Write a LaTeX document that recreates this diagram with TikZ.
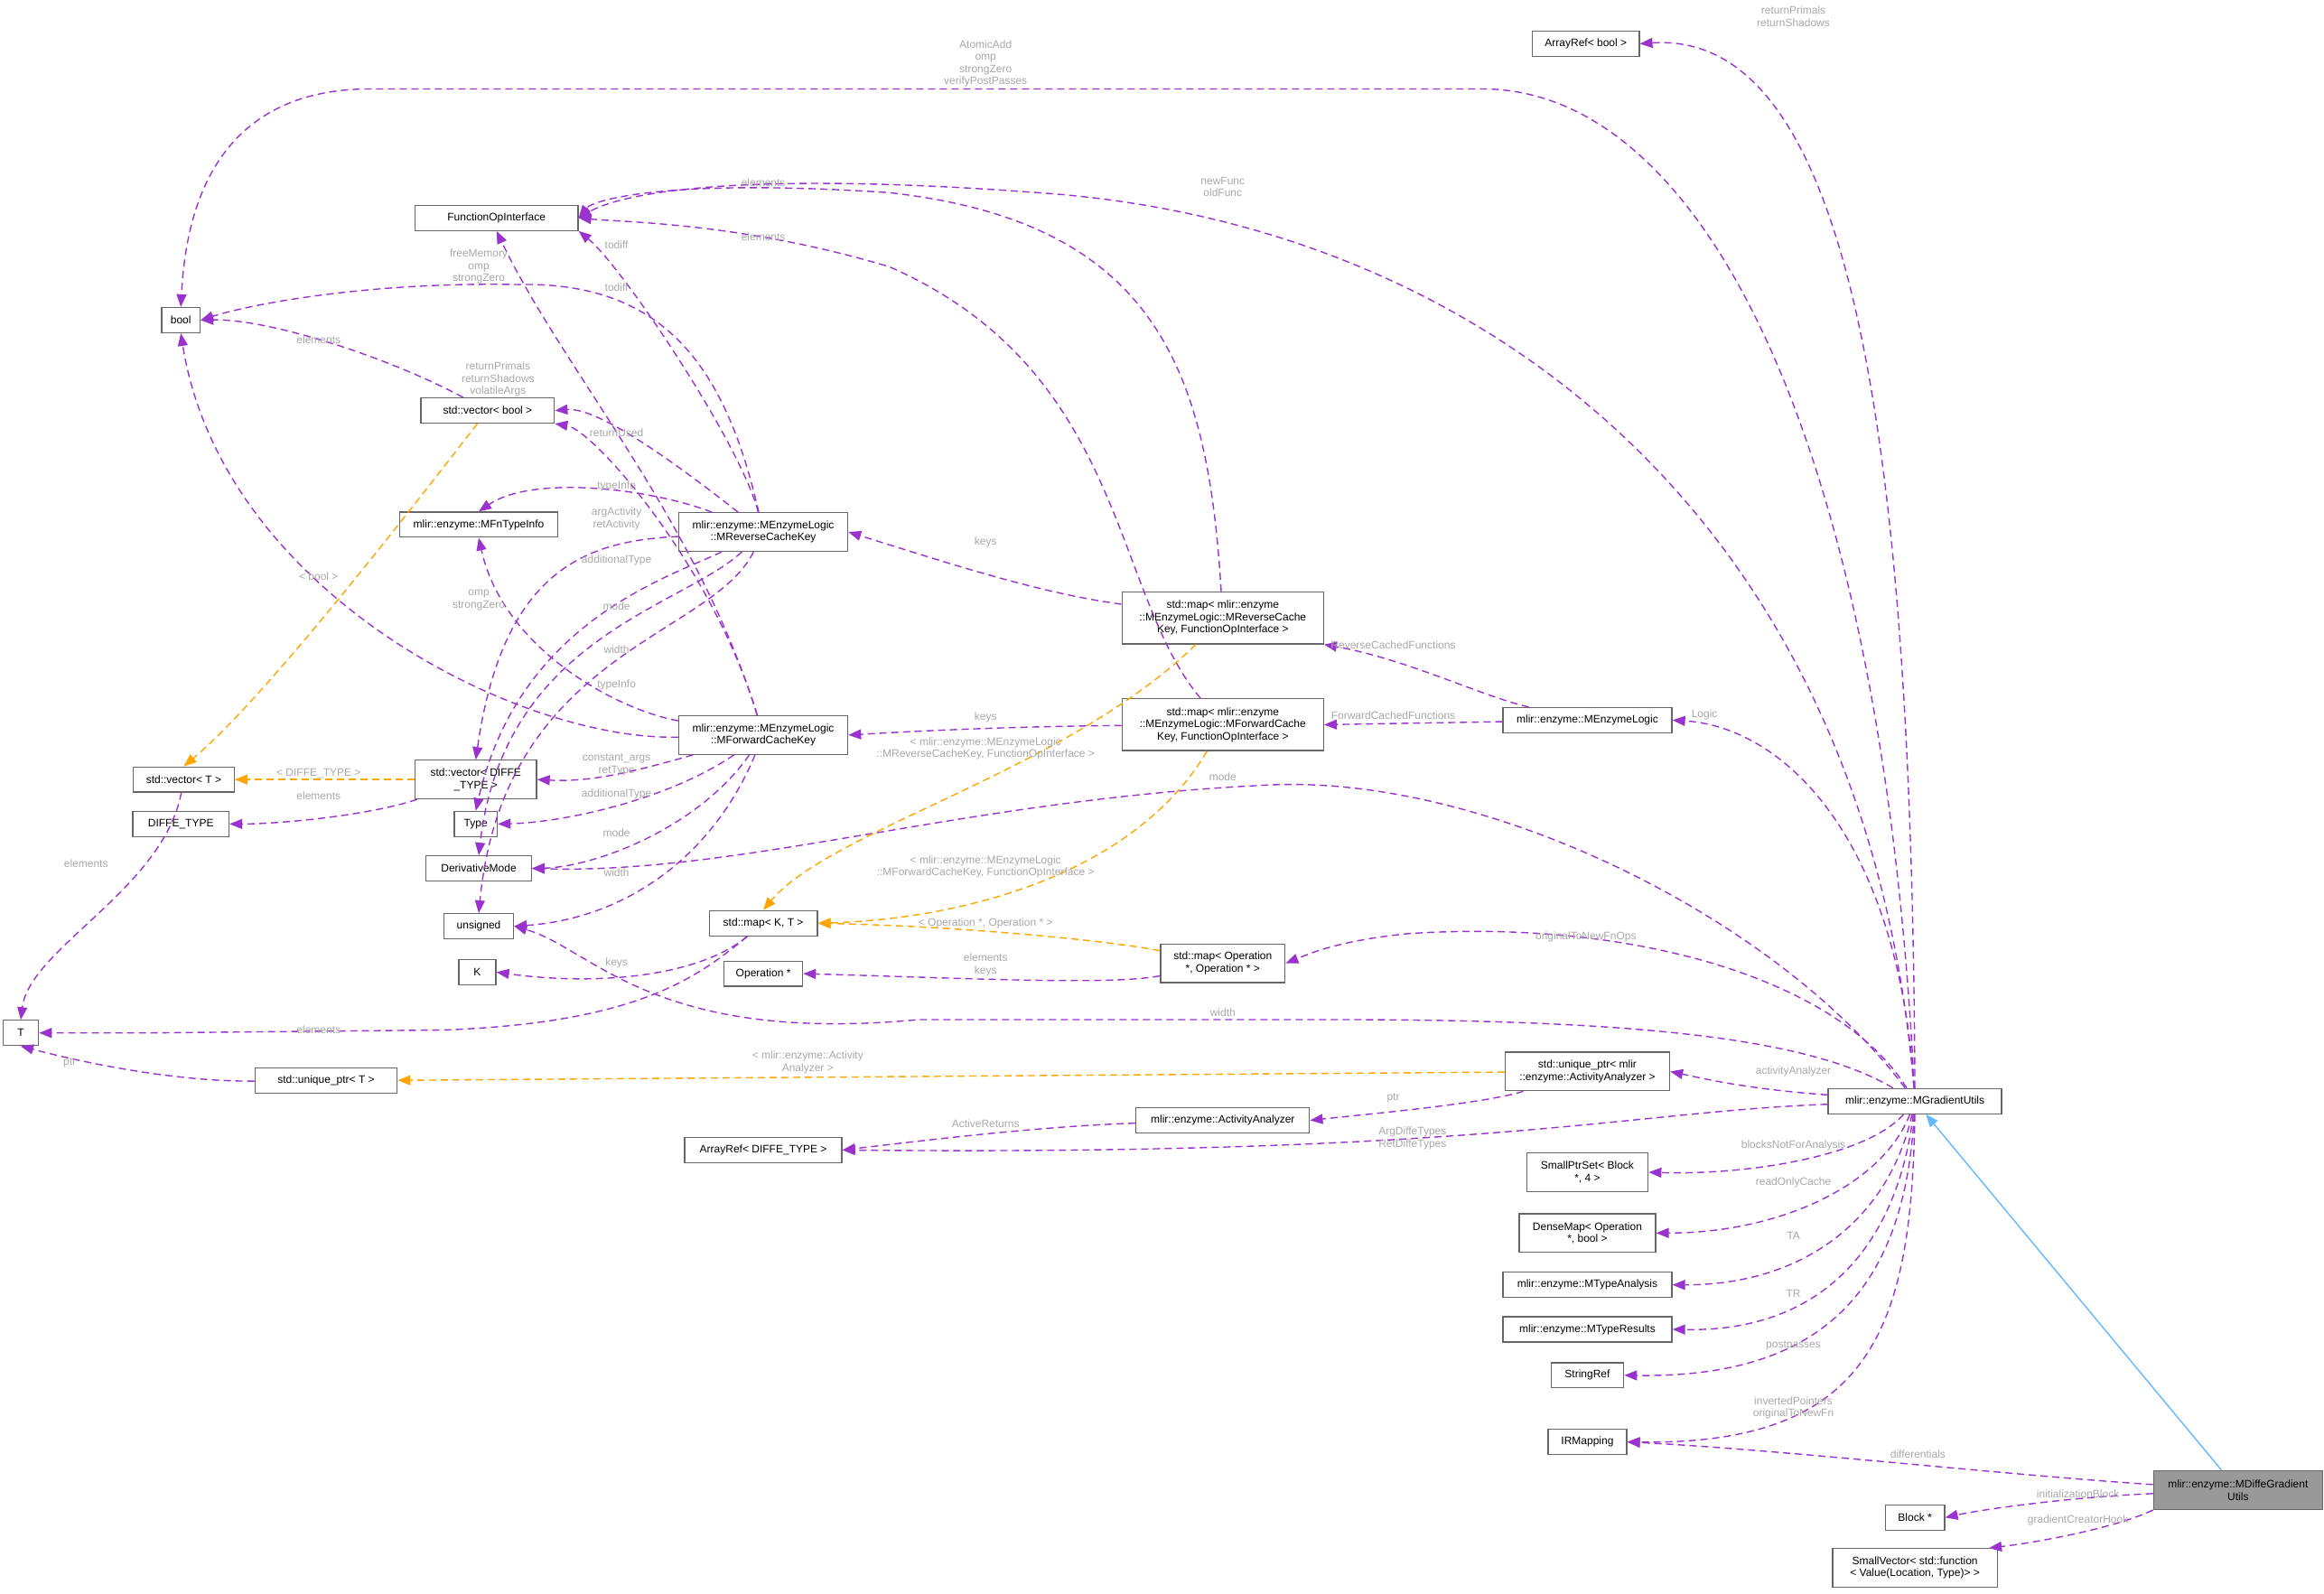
\documentclass[tikz,border=0pt]{standalone}
\usepackage{fontspec}
\setmainfont{Liberation Sans}
\usetikzlibrary{arrows.meta}
\definecolor{pp}{HTML}{9A32CD}
\definecolor{og}{HTML}{FFA500}
\definecolor{bl}{HTML}{63B8FF}
\definecolor{lg}{HTML}{A8A8A8}
\definecolor{bd}{HTML}{666666}
\tikzset{
 bx/.style={draw=bd,line width=1.3pt,fill=white,font=\fontsize{12}{13.5}\selectfont,inner sep=1pt,align=center,minimum height=17*1.641pt},
 tw/.style={minimum height=26*1.641pt},
 th/.style={minimum height=35*1.641pt},
 wd/.style={minimum width=#1*1.641pt},
 lb/.style={font=\fontsize{12}{13.5}\selectfont,text=lg,align=center,inner sep=0pt},
 pe/.style={draw=pp,line width=1.4pt,dash pattern=on 8pt off 5pt,-{Triangle[length=14pt,width=11pt]}},
 oe/.style={pe,draw=og},
 be/.style={draw=bl,line width=1.4pt,-{Triangle[length=14pt,width=11pt]},fill=bl},
}
\begin{document}
\begin{tikzpicture}[x=1.641pt,y=-1.641pt]
\useasboundingbox (0,0) rectangle (1568,1075);
% nodes
\node[bx,wd=72] (AB) at (1070,29.5) {ArrayRef< bool >};
\node[bx,wd=110] (FOI) at (335,147) {FunctionOpInterface};
\node[bx,wd=26] (BO) at (122,216) {bool};
\node[bx,wd=90] (VB) at (329,277) {std::vector< bool >};
\node[bx,wd=107] (FTI) at (323,354) {mlir::enzyme::MFnTypeInfo};
\node[bx,tw,wd=114] (RK) at (515,359) {mlir::enzyme::MEnzymeLogic\\::MReverseCacheKey};
\node[bx,th,wd=136] (MR) at (825,417) {std::map< mlir::enzyme\\::MEnzymeLogic::MReverseCache\\Key, FunctionOpInterface >};
\node[bx,tw,wd=114] (FK) at (515,496) {mlir::enzyme::MEnzymeLogic\\::MForwardCacheKey};
\node[bx,th,wd=136] (MF) at (825,489) {std::map< mlir::enzyme\\::MEnzymeLogic::MForwardCache\\Key, FunctionOpInterface >};
\node[bx,wd=114] (L) at (1071,486) {mlir::enzyme::MEnzymeLogic};
\node[bx,wd=68] (VT) at (124,526) {std::vector< T >};
\node[bx,tw,wd=82] (VD) at (321,526) {std::vector< DIFFE\\\_TYPE >};
\node[bx,wd=65] (DT) at (122,556) {DIFFE\_TYPE};
\node[bx,wd=29] (TY) at (321,556) {Type};
\node[bx,wd=71] (DM) at (323,586) {DerivativeMode};
\node[bx,wd=47] (UN) at (323,625) {unsigned};
\node[bx,wd=73] (MK) at (515,623) {std::map< K, T >};
\node[bx,wd=25] (K) at (322,656) {K};
\node[bx,wd=53] (OP) at (515,657) {Operation *};
\node[bx,tw,wd=84] (MO) at (825,650) {std::map< Operation\\*, Operation * >};
\node[bx,wd=24] (T) at (14,697) {T};
\node[bx,wd=96] (UT) at (220,729) {std::unique\_ptr< T >};
\node[bx,tw,wd=111] (UA) at (1071,723) {std::unique\_ptr< mlir\\::enzyme::ActivityAnalyzer >};
\node[bx,wd=117] (G) at (1292,743) {mlir::enzyme::MGradientUtils};
\node[bx,wd=117] (AA) at (825,756) {mlir::enzyme::ActivityAnalyzer};
\node[bx,wd=106] (ARD) at (515,776) {ArrayRef< DIFFE\_TYPE >};
\node[bx,tw,wd=82] (SP) at (1071,791) {SmallPtrSet< Block\\*, 4 >};
\node[bx,tw,wd=92] (DMp) at (1071,832) {DenseMap< Operation\\*, bool >};
\node[bx,wd=114] (TA) at (1071,867) {mlir::enzyme::MTypeAnalysis};
\node[bx,wd=114] (TR) at (1071,897) {mlir::enzyme::MTypeResults};
\node[bx,wd=49] (SR) at (1071,928) {StringRef};
\node[bx,wd=53] (IR) at (1071,973) {IRMapping};
\node[bx,tw,wd=114,fill=black!40] (D) at (1510,1005.5) {mlir::enzyme::MDiffeGradient\\Utils};
\node[bx,wd=40] (BK) at (1292,1024) {Block *};
\node[bx,tw,wd=111] (SV) at (1292,1058) {SmallVector< std::function\\< Value(Location, Type)> >};
% edges from G
\draw[pe] (G) .. controls (1290,300) and (1250,20) .. (AB.east);
\draw[pe] (G) .. controls (1270,300) and (1150,60) .. (1000,60) -- (250,60) .. controls (140,60) and (125,150) .. (BO.north);
\draw[pe] (G) .. controls (1260,350) and (1000,150) .. (700,130) .. controls (500,115) and (420,130) .. (FOI.east);
\draw[pe] (G) .. controls (1280,560) and (1200,490) .. (L.east);
\draw[pe] (G) .. controls (1200,620) and (1000,520) .. (850,530) .. controls (650,540) and (500,590) .. (DM.east);
\draw[pe] (G) .. controls (1240,660) and (1100,620) .. (950,630) .. controls (900,635) and (880,645) .. (MO.east);
\draw[pe] (G) .. controls (1220,700) and (1100,688) .. (900,688) -- (620,688) .. controls (440,705) and (400,640) .. (UN.east);
\draw[pe] (G) .. controls (1180,735) and (1150,728) .. (UA.east);
\draw[pe] (G) .. controls (1100,750) and (1000,780) .. (ARD.east);
\draw[pe] (G) .. controls (1260,780) and (1180,793) .. (SP.east);
\draw[pe] (G) .. controls (1270,800) and (1200,832) .. (DMp.east);
\draw[pe] (G) .. controls (1275,820) and (1220,867) .. (TA.east);
\draw[pe] (G) .. controls (1280,840) and (1230,899) .. (TR.east);
\draw[pe] (G) .. controls (1285,870) and (1230,930) .. (SR.east);
\draw[pe] (G) .. controls (1290,900) and (1260,975) .. (IR.east);
\draw[pe] (D) .. controls (1350,995) and (1200,978) .. (IR.east);
\draw[pe] (D) .. controls (1400,1010) and (1340,1018) .. (BK.east);
\draw[pe] (D.south west) .. controls (1430,1030) and (1380,1040) .. (SV.15);
\draw[be] (D) -- (G);
% MEnzymeLogic
\draw[pe] (L) .. controls (1000,470) and (950,445) .. (MR.south east);
\draw[pe] (L) -- (MF.east);
% maps
\draw[pe] (MR) .. controls (700,400) and (640,380) .. (RK.east);
\draw[pe] (MR) .. controls (815,250) and (780,150) .. (600,130) .. controls (450,120) and (400,135) .. (FOI.east);
\draw[oe] (MR) .. controls (720,520) and (560,560) .. (MK.north);
\draw[pe] (MF) .. controls (700,490) and (640,492) .. (FK.east);
\draw[pe] (MF) .. controls (750,400) and (760,250) .. (600,180) .. controls (500,150) and (420,150) .. (FOI.east);
\draw[oe] (MF) .. controls (765,590) and (650,620) .. (MK.east);
\draw[oe] (MO) .. controls (750,635) and (650,625) .. (MK.east);
\draw[pe] (MO) .. controls (750,665) and (650,660) .. (OP.east);
\draw[pe] (MK) .. controls (470,660) and (400,665) .. (K.east);
\draw[pe] (MK) .. controls (470,660) and (430,690) .. (300,695) -- (100,697) .. controls (60,697) and (40,697) .. (T.east);
\draw[pe] (UT) .. controls (120,730) and (60,718) .. (T.south);
\draw[oe] (UA) -- (UT.east);
\draw[pe] (UA) .. controls (1000,745) and (920,752) .. (AA.east);
\draw[pe] (AA) .. controls (700,760) and (620,770) .. (ARD.east);
\draw[pe] (VB) .. controls (260,240) and (180,215) .. (BO.east);
\draw[oe] (VB) .. controls (280,340) and (180,470) .. (VT.north);
\draw[oe] (VD) -- (VT.east);
\draw[pe] (VD) .. controls (250,550) and (190,556) .. (DT.east);
\draw[pe] (VT) .. controls (110,600) and (20,640) .. (T.north);
% ReverseCacheKey
\draw[pe] (RK) .. controls (500,300) and (420,180) .. (FOI.south east);
\draw[pe] (RK) .. controls (490,250) and (450,190) .. (350,192) .. controls (250,190) and (170,205) .. (BO.east);
\draw[pe] (RK) .. controls (440,300) and (400,275) .. (VB.east);
\draw[pe] (RK) .. controls (440,330) and (360,320) .. (FTI.north);
\draw[pe] (RK) .. controls (400,365) and (340,380) .. (VD.north);
\draw[pe] (RK) .. controls (450,390) and (350,420) .. (TY.north);
\draw[pe] (RK) .. controls (460,410) and (340,430) .. (DM.north);
\draw[pe] (RK) .. controls (480,430) and (340,440) .. (UN.north);
% ForwardCacheKey
\draw[pe] (FK) .. controls (470,350) and (380,250) .. (FOI.south);
\draw[pe] (FK) .. controls (480,380) and (400,290) .. (VB.south east);
\draw[pe] (FK) .. controls (350,500) and (150,400) .. (BO.south);
\draw[pe] (FK) .. controls (420,480) and (340,440) .. (FTI.south);
\draw[pe] (FK) .. controls (430,520) and (400,528) .. (VD.east);
\draw[pe] (FK) .. controls (450,540) and (380,555) .. (TY.east);
\draw[pe] (FK) .. controls (470,560) and (400,585) .. (DM.east);
\draw[pe] (FK) .. controls (480,580) and (420,620) .. (UN.east);
% labels
\node[lb] (l1) at (1210,11) {returnPrimals\\returnShadows};
\node[lb] (l2) at (665,43) {AtomicAdd\\omp\\strongZero\\verifyPostPasses};
\node[lb] (l3) at (825,126) {newFunc\\oldFunc};
\node[lb] (l4) at (1150,482) {Logic};
\node[lb] (l5) at (825,524) {mode};
\node[lb] (l6) at (1070,632) {originalToNewFnOps};
\node[lb] (l7) at (825,683) {width};
\node[lb] (l8) at (1210,723) {activityAnalyzer};
\node[lb] (l9) at (953,768) {ArgDiffeTypes\\RetDiffeTypes};
\node[lb] (l10) at (1210,773) {blocksNotForAnalysis};
\node[lb] (l11) at (1210,798) {readOnlyCache};
\node[lb] (l12) at (1210,834) {TA};
\node[lb] (l13) at (1210,873) {TR};
\node[lb] (l14) at (1210,908) {postpasses};
\node[lb] (l15) at (1210,950) {invertedPointers\\originalToNewFn};
\node[lb] (l16) at (1294,981) {differentials};
\node[lb] (l17) at (1402,1008) {initializationBlock};
\node[lb] (l18) at (1402,1026) {gradientCreatorHook};
\node[lb] (l20) at (940,435) {ReverseCachedFunctions};
\node[lb] (l21) at (940,483) {ForwardCachedFunctions};
\node[lb] (l22) at (665,366) {keys};
\node[lb] (l23) at (515,123) {elements};
\node[lb] (l24) at (665,505) {< mlir::enzyme::MEnzymeLogic\\::MReverseCacheKey, FunctionOpInterface >};
\node[lb] (l25) at (665,484) {keys};
\node[lb] (l26) at (515,160) {elements};
\node[lb] (l27) at (665,585) {< mlir::enzyme::MEnzymeLogic\\::MForwardCacheKey, FunctionOpInterface >};
\node[lb] (l28) at (665,623) {< Operation *, Operation * >};
\node[lb] (l29) at (665,651) {elements\\keys};
\node[lb] (l30) at (416,650) {keys};
\node[lb] (l31) at (215,695) {elements};
\node[lb] (l32) at (47,717) {ptr};
\node[lb] (l33) at (545,717) {< mlir::enzyme::Activity\\Analyzer >};
\node[lb] (l34) at (940,741) {ptr};
\node[lb] (l35) at (665,758) {ActiveReturns};
\node[lb] (l36) at (215,229) {elements};
\node[lb] (l37) at (215,389) {< bool >};
\node[lb] (l38) at (215,522) {< DIFFE\_TYPE >};
\node[lb] (l39) at (215,537) {elements};
\node[lb] (l40) at (58,583) {elements};
\node[lb] (l41) at (416,165) {todiff};
\node[lb] (l42) at (323,180) {freeMemory\\omp\\strongZero};
\node[lb] (l43) at (336,256) {returnPrimals\\returnShadows\\volatileArgs};
\node[lb] (l44) at (416,328) {typeInfo};
\node[lb] (l45) at (416,350) {argActivity\\retActivity};
\node[lb] (l46) at (416,378) {additionalType};
\node[lb] (l47) at (416,409) {mode};
\node[lb] (l48) at (416,438) {width};
\node[lb] (l49) at (416,194) {todiff};
\node[lb] (l50) at (416,292) {returnUsed};
\node[lb] (l51) at (323,405) {omp\\strongZero};
\node[lb] (l52) at (416,462) {typeInfo};
\node[lb] (l53) at (416,516) {constant\_args\\retType};
\node[lb] (l54) at (416,536) {additionalType};
\node[lb] (l55) at (416,562) {mode};
\node[lb] (l56) at (416,589) {width};
\end{tikzpicture}
\end{document}
